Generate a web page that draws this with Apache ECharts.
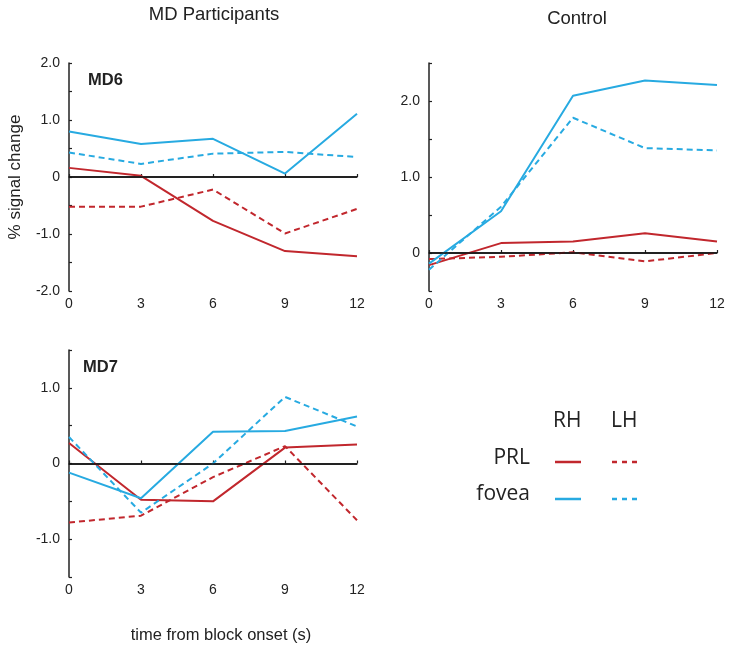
<!DOCTYPE html>
<html>
<head>
<meta charset="utf-8">
<script src="https://cdn.jsdelivr.net/npm/echarts@6/dist/echarts.min.js"></script>
<style>html,body{margin:0;padding:0;background:#fff}#c{width:733px;height:648px}</style>
</head>
<body>
<div id="c"></div>
<script>
const times = [0, 3, 6, 9, 12];
const xTicks = ['0', '3', '6', '9', '12'];

// MD6
const md6_prl_rh = [0.16, 0.02, -0.77, -1.30, -1.39];
const md6_prl_lh = [-0.52, -0.52, -0.22, -0.99, -0.56];
const md6_fov_rh = [0.80, 0.58, 0.67, 0.06, 1.11];
const md6_fov_lh = [0.43, 0.23, 0.41, 0.44, 0.35];
// Control
const ctl_prl_rh = [-0.16, 0.13, 0.15, 0.26, 0.15];
const ctl_prl_lh = [-0.08, -0.05, 0.01, -0.11, 0.00];
const ctl_fov_rh = [-0.14, 0.55, 2.07, 2.27, 2.21];
const ctl_fov_lh = [-0.22, 0.61, 1.78, 1.38, 1.35];
// MD7
const md7_prl_rh = [0.27, -0.48, -0.50, 0.21, 0.25];
const md7_prl_lh = [-0.78, -0.69, -0.18, 0.23, -0.75];
const md7_fov_rh = [-0.12, -0.46, 0.42, 0.43, 0.62];
const md7_fov_lh = [0.35, -0.65, 0.00, 0.88, 0.49];

const RED = '#c1272d', BLUE = '#27aae1';
const AX = '#222';
const FONT = 'Liberation Sans';

function pts(arr) { return times.map((t, i) => [t, arr[i]]); }

function yFmt(v) {
  if (Math.abs(v % 1) > 1e-9) return '';
  if (v === 0) return '0';
  return v.toFixed(1);
}

const grids = [
  {left: 69, top: 63, width: 288, height: 228},
  {left: 429, top: 63, width: 288, height: 228},
  {left: 69, top: 350, width: 288, height: 227}
];
const yRanges = [[-2, 2], [-0.5, 2.5], [-1.5, 1.5]];

const xAxes = grids.map((g, i) => ({
  type: 'value', gridIndex: i, min: 0, max: 12, interval: 3,
  axisLine: {lineStyle: {color: AX, width: 1.5}},
  axisTick: {inside: true, length: 3, lineStyle: {color: AX, width: 1.2}},
  axisLabel: {color: '#222', fontSize: 14, fontFamily: FONT, margin: 6,
    formatter: v => xTicks[times.indexOf(v)]},
  splitLine: {show: false},
  name: i === 2 ? 'time from block onset (s)' : '',
  nameLocation: 'middle', nameGap: 50,
  nameTextStyle: {color: '#222', fontSize: 16.5, fontFamily: FONT, padding: [0, 0, 0, 16]}
}));

const yAxes = grids.map((g, i) => ({
  type: 'value', gridIndex: i, min: yRanges[i][0], max: yRanges[i][1], interval: 0.5,
  axisLine: {show: true, lineStyle: {color: AX, width: 1.5}},
  axisTick: {show: true, inside: true, length: 3, lineStyle: {color: AX, width: 1.2}},
  axisLabel: {color: '#222', fontSize: 14, fontFamily: FONT, margin: 9, formatter: yFmt},
  splitLine: {show: false},
  name: i === 0 ? '% signal change' : '',
  nameLocation: 'middle', nameGap: 45,
  nameTextStyle: {color: '#222', fontSize: 17, fontFamily: FONT}
}));

const panels = [
  [md6_prl_rh, md6_prl_lh, md6_fov_rh, md6_fov_lh],
  [ctl_prl_rh, ctl_prl_lh, ctl_fov_rh, ctl_fov_lh],
  [md7_prl_rh, md7_prl_lh, md7_fov_rh, md7_fov_lh]
];
const styles = [
  {color: RED, type: 'solid'},
  {color: RED, type: [6, 4]},
  {color: BLUE, type: 'solid'},
  {color: BLUE, type: [6, 4]}
];

const series = [];
panels.forEach((p, gi) => {
  series.push({
    type: 'line', xAxisIndex: gi, yAxisIndex: gi, data: [], silent: true,
    markLine: {silent: true, symbol: 'none', label: {show: false},
      lineStyle: {color: '#111', width: 1.5, type: 'solid'},
      data: [{yAxis: 0}]}
  });
  p.forEach((arr, si) => {
    series.push({
      type: 'line', xAxisIndex: gi, yAxisIndex: gi, data: pts(arr),
      showSymbol: false, silent: true, animation: false,
      lineStyle: {color: styles[si].color, width: 2, type: styles[si].type}
    });
  });
});

const LF = 'Open Sans';
const legendY1 = 462, legendY2 = 499;

const option = {
  animation: false,
  title: [
    {text: 'MD Participants', left: 214, top: 5, padding: 0, textAlign: 'center',
      textStyle: {fontSize: 18.5, fontWeight: 'normal', color: '#222', fontFamily: FONT}},
    {text: 'Control', left: 577, top: 9, padding: 0, textAlign: 'center',
      textStyle: {fontSize: 18.5, fontWeight: 'normal', color: '#222', fontFamily: FONT}},
    {text: 'MD6', left: 88, top: 72, padding: 0,
      textStyle: {fontSize: 16.5, fontWeight: 'bold', color: '#222', fontFamily: FONT}},
    {text: 'MD7', left: 83, top: 359, padding: 0,
      textStyle: {fontSize: 16.5, fontWeight: 'bold', color: '#222', fontFamily: FONT}}
  ],
  grid: grids,
  xAxis: xAxes,
  yAxis: yAxes,
  series: series,
  graphic: [
    {type: 'text', left: 553, top: 411, style: {text: 'RH', fontSize: 21, fontFamily: LF, fill: '#222'}},
    {type: 'text', left: 611, top: 411, style: {text: 'LH', fontSize: 21, fontFamily: LF, fill: '#222'}},
    {type: 'text', right: 203, top: legendY1 - 14, style: {text: 'PRL', fontSize: 21, fontFamily: LF, fill: '#222'}},
    {type: 'text', right: 203, top: legendY2 - 15, style: {text: 'fovea', fontSize: 21, fontFamily: LF, fill: '#222'}},
    {type: 'line', shape: {x1: 555, y1: legendY1, x2: 581, y2: legendY1}, style: {stroke: RED, lineWidth: 2.5}},
    {type: 'line', shape: {x1: 612, y1: legendY1, x2: 638, y2: legendY1}, style: {stroke: RED, lineWidth: 2.5, lineDash: [5, 5]}},
    {type: 'line', shape: {x1: 555, y1: legendY2, x2: 581, y2: legendY2}, style: {stroke: BLUE, lineWidth: 2.5}},
    {type: 'line', shape: {x1: 612, y1: legendY2, x2: 638, y2: legendY2}, style: {stroke: BLUE, lineWidth: 2.5, lineDash: [5, 5]}}
  ]
};

echarts.init(document.getElementById('c'), null, {renderer: 'canvas'}).setOption(option);
</script>
</body>
</html>
